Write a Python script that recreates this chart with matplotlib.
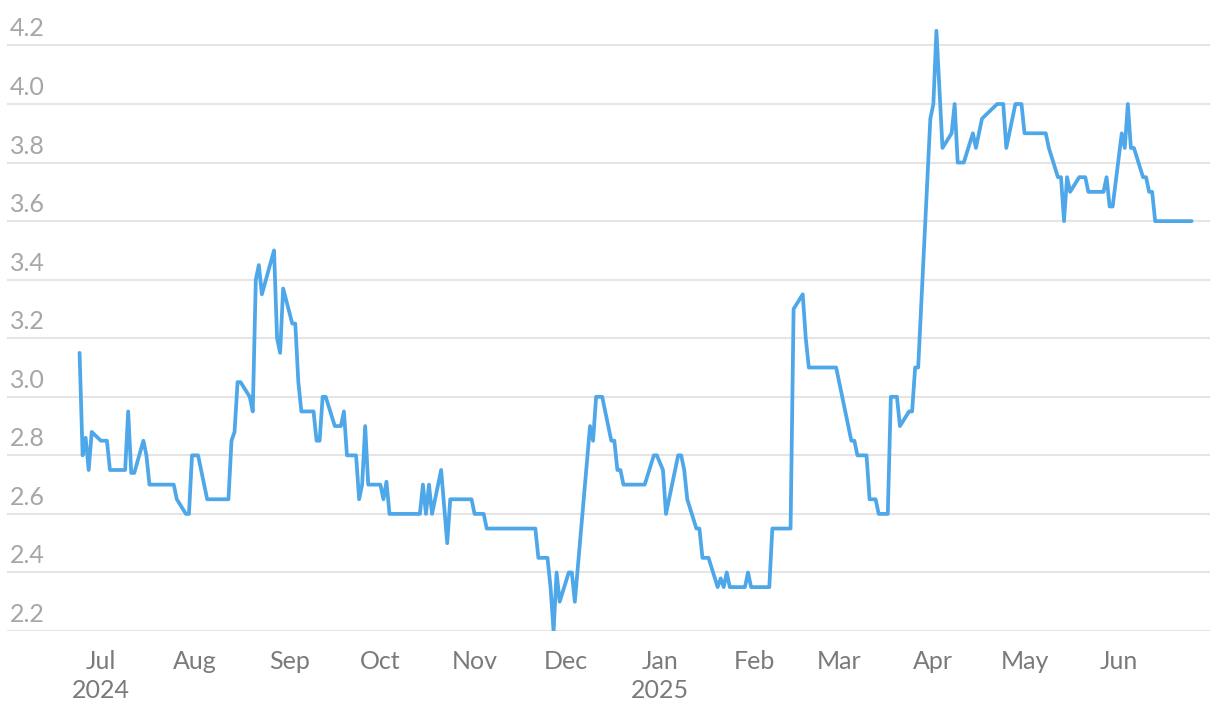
import numpy as np
import pandas as pd
import matplotlib
matplotlib.use("Agg")
import matplotlib.pyplot as plt
import matplotlib.dates as mdates
import matplotlib.transforms as mtransforms

#%% data
dates = pd.to_datetime([
    "2024-06-24", "2024-06-25", "2024-06-26", "2024-06-27", "2024-06-28", "2024-07-01",
    "2024-07-03", "2024-07-04", "2024-07-09", "2024-07-10", "2024-07-11", "2024-07-12",
    "2024-07-15", "2024-07-16", "2024-07-17", "2024-07-25", "2024-07-26", "2024-07-29",
    "2024-07-30", "2024-07-31", "2024-08-02", "2024-08-05", "2024-08-12", "2024-08-13",
    "2024-08-14", "2024-08-15", "2024-08-16", "2024-08-19", "2024-08-20", "2024-08-21",
    "2024-08-22", "2024-08-23", "2024-08-27", "2024-08-28", "2024-08-29", "2024-08-30",
    "2024-09-02", "2024-09-03", "2024-09-04", "2024-09-05", "2024-09-09", "2024-09-10",
    "2024-09-11", "2024-09-12", "2024-09-13", "2024-09-16", "2024-09-18", "2024-09-19",
    "2024-09-20", "2024-09-23", "2024-09-24", "2024-09-25", "2024-09-26", "2024-09-27",
    "2024-10-01", "2024-10-02", "2024-10-03", "2024-10-04", "2024-10-14", "2024-10-15",
    "2024-10-16", "2024-10-17", "2024-10-18", "2024-10-21", "2024-10-23", "2024-10-24",
    "2024-10-31", "2024-11-01", "2024-11-04", "2024-11-05", "2024-11-21", "2024-11-22",
    "2024-11-25", "2024-11-26", "2024-11-27", "2024-11-28", "2024-11-29", "2024-12-02",
    "2024-12-03", "2024-12-04", "2024-12-09", "2024-12-10", "2024-12-11", "2024-12-13",
    "2024-12-16", "2024-12-17", "2024-12-18", "2024-12-19", "2024-12-20", "2024-12-27",
    "2024-12-30", "2024-12-31", "2025-01-02", "2025-01-03", "2025-01-07", "2025-01-08",
    "2025-01-09", "2025-01-10", "2025-01-13", "2025-01-14", "2025-01-15", "2025-01-17",
    "2025-01-20", "2025-01-21", "2025-01-22", "2025-01-23", "2025-01-24", "2025-01-29",
    "2025-01-30", "2025-01-31", "2025-02-06", "2025-02-07", "2025-02-13", "2025-02-14",
    "2025-02-17", "2025-02-18", "2025-02-19", "2025-02-28", "2025-03-05", "2025-03-06",
    "2025-03-07", "2025-03-10", "2025-03-11", "2025-03-13", "2025-03-14", "2025-03-17",
    "2025-03-18", "2025-03-20", "2025-03-21", "2025-03-24", "2025-03-25", "2025-03-26",
    "2025-03-27", "2025-03-31", "2025-04-01", "2025-04-02", "2025-04-04", "2025-04-07",
    "2025-04-08", "2025-04-09", "2025-04-11", "2025-04-14", "2025-04-15", "2025-04-17",
    "2025-04-22", "2025-04-24", "2025-04-25", "2025-04-28", "2025-04-30", "2025-05-01",
    "2025-05-08", "2025-05-09", "2025-05-12", "2025-05-13", "2025-05-14", "2025-05-15",
    "2025-05-16", "2025-05-19", "2025-05-21", "2025-05-22", "2025-05-27", "2025-05-28",
    "2025-05-29", "2025-05-30", "2025-06-02", "2025-06-03", "2025-06-04", "2025-06-05",
    "2025-06-06", "2025-06-09", "2025-06-10", "2025-06-11", "2025-06-12", "2025-06-13",
    "2025-06-25",
])
values = [
    3.15, 2.80, 2.86, 2.75, 2.88, 2.85,
    2.85, 2.75, 2.75, 2.95, 2.74, 2.74,
    2.85, 2.80, 2.70, 2.70, 2.65, 2.60,
    2.60, 2.80, 2.80, 2.65, 2.65, 2.85,
    2.88, 3.05, 3.05, 3.00, 2.95, 3.40,
    3.45, 3.35, 3.50, 3.20, 3.15, 3.37,
    3.25, 3.25, 3.05, 2.95, 2.95, 2.85,
    2.85, 3.00, 3.00, 2.90, 2.90, 2.95,
    2.80, 2.80, 2.65, 2.70, 2.90, 2.70,
    2.70, 2.65, 2.71, 2.60, 2.60, 2.70,
    2.60, 2.70, 2.60, 2.75, 2.50, 2.65,
    2.65, 2.60, 2.60, 2.55, 2.55, 2.45,
    2.45, 2.35, 2.20, 2.40, 2.30, 2.40,
    2.40, 2.30, 2.90, 2.85, 3.00, 3.00,
    2.85, 2.85, 2.75, 2.75, 2.70, 2.70,
    2.80, 2.80, 2.75, 2.60, 2.80, 2.80,
    2.75, 2.65, 2.55, 2.55, 2.45, 2.45,
    2.35, 2.38, 2.35, 2.40, 2.35, 2.35,
    2.40, 2.35, 2.35, 2.55, 2.55, 3.30,
    3.35, 3.20, 3.10, 3.10, 2.85, 2.85,
    2.80, 2.80, 2.65, 2.65, 2.60, 2.60,
    3.00, 3.00, 2.90, 2.95, 2.95, 3.10,
    3.10, 3.95, 4.00, 4.25, 3.85, 3.90,
    4.00, 3.80, 3.80, 3.90, 3.85, 3.95,
    4.00, 4.00, 3.85, 4.00, 4.00, 3.90,
    3.90, 3.85, 3.75, 3.75, 3.60, 3.75,
    3.70, 3.75, 3.75, 3.70, 3.70, 3.75,
    3.65, 3.65, 3.90, 3.85, 4.00, 3.85,
    3.85, 3.75, 3.75, 3.70, 3.70, 3.60,
    3.60,
]
y_ticks = [2.2, 2.4, 2.6, 2.8, 3.0, 3.2, 3.4, 3.6, 3.8, 4.0, 4.2]
month_starts = pd.date_range("2024-07-01", "2025-06-01", freq="MS")
month_labels = ["Jul\n2024", "Aug", "Sep", "Oct", "Nov", "Dec",
                "Jan\n2025", "Feb", "Mar", "Apr", "May", "Jun"]

#%% plot
plt.rcParams['font.family'] = ['Lato', 'DejaVu Sans']

fig = plt.figure(figsize=(12.2, 7.22), dpi=100)
ax = fig.add_axes([0.0057, 0.126, 0.986, 0.8435])

ax.plot(dates, values, color='#4ea7e8', lw=2.7, solid_joinstyle='round',
        solid_capstyle='round', zorder=3)

x0 = mdates.date2num(pd.Timestamp("2024-07-01"))
ax.set_xlim(x0 - 30.9, x0 + 365.0)
ax.set_ylim(2.2, 4.28)

ax.set_yticks(y_ticks)
ax.yaxis.grid(True, color='#e5e5e5', lw=1.5, zorder=0)
ax.set_yticklabels([])
ax.tick_params(axis='y', length=0)

# value labels sit above the gridlines, inside the plot
trans = mtransforms.offset_copy(ax.get_yaxis_transform(), fig=fig, x=3, y=5, units='dots')
for v in y_ticks:
    ax.text(0.0, v, f"{v:.1f}", transform=trans, ha='left', va='bottom',
            fontsize=18, color='#a6a6a6')

ax.set_xticks(month_starts)
ax.set_xticklabels(month_labels, fontsize=18, color='#7a7a7a', linespacing=1.3)
ax.tick_params(axis='x', length=0, pad=14)

for s in ax.spines.values():
    s.set_visible(False)

fig.savefig("out.png", dpi=100)
